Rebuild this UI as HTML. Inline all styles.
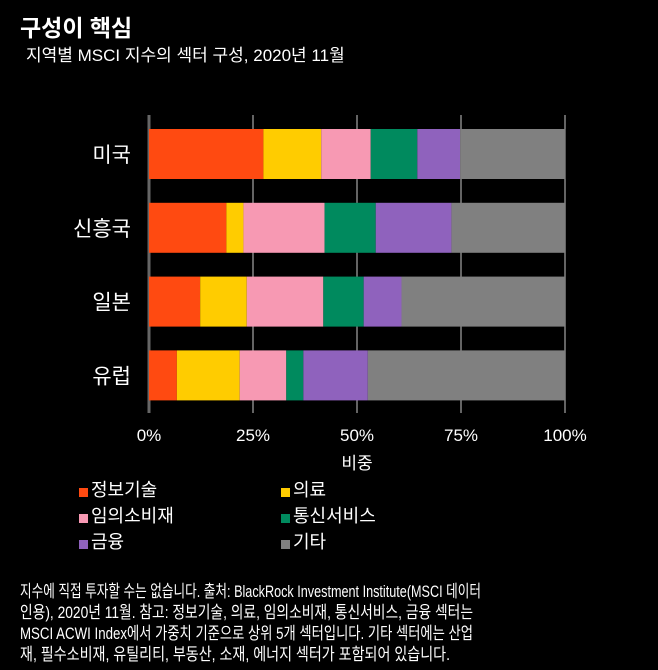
<!DOCTYPE html>
<html><head><meta charset="utf-8"><style>
body{margin:0;background:#000;width:658px;height:666px;overflow:hidden;font-family:"Liberation Sans","Noto Sans CJK KR",sans-serif;color:#fff;position:relative}
.t{position:absolute;white-space:nowrap}
.sq{display:inline-block;width:9px;height:9px;margin-right:3px;vertical-align:-1px}
</style></head><body>
<div class="t" style="left:20px;top:9px;font-size:23px;font-weight:bold">구성이 핵심</div>
<div class="t" style="left:26px;top:41px;font-size:17px">지역별 MSCI 지수의 섹터 구성, 2020년 11월</div>
<svg id="chart" width="658" height="480" style="position:absolute;left:0;top:0"></svg>
<div>
<div class="t" style="left:79px;top:476px;font-size:18px"><span class="sq" style="background:#ff4a11"></span>정보기술</div>
<div class="t" style="left:281px;top:476px;font-size:18px"><span class="sq" style="background:#ffcc00"></span>의료</div>
<div class="t" style="left:79px;top:502px;font-size:18px"><span class="sq" style="background:#f799b3"></span>임의소비재</div>
<div class="t" style="left:281px;top:502px;font-size:18px"><span class="sq" style="background:#008a5e"></span>통신서비스</div>
<div class="t" style="left:79px;top:528px;font-size:18px"><span class="sq" style="background:#8f62bd"></span>금융</div>
<div class="t" style="left:281px;top:528px;font-size:18px"><span class="sq" style="background:#808080"></span>기타</div>
</div>
<svg width="658" height="100" style="position:absolute;left:0;top:570px" font-family="Liberation Sans, Noto Sans CJK KR, sans-serif" font-size="17" fill="#fff">
<text x="20" y="27" textLength="461" lengthAdjust="spacingAndGlyphs">지수에 직접 투자할 수는 없습니다. 출처: BlackRock Investment Institute(MSCI 데이터</text>
<text x="20" y="48" textLength="453" lengthAdjust="spacingAndGlyphs">인용), 2020년 11월. 참고: 정보기술, 의료, 임의소비재, 통신서비스, 금융 섹터는</text>
<text x="20" y="69" textLength="453" lengthAdjust="spacingAndGlyphs">MSCI ACWI Index에서 가중치 기준으로 상위 5개 섹터입니다. 기타 섹터에는 산업</text>
<text x="20" y="90" textLength="430" lengthAdjust="spacingAndGlyphs">재, 필수소비재, 유틸리티, 부동산, 소재, 에너지 섹터가 포함되어 있습니다.</text>
</svg>
<script>
const categories=["미국","신흥국","일본","유럽"];
const seriesNames=["정보기술","의료","임의소비재","통신서비스","금융","기타"];
const it=[27.5,18.6,12.3,6.7];
const health=[13.9,4.1,11.2,15.1];
const consumer=[11.9,19.5,18.4,11.2];
const telecom=[11.2,12.3,9.7,4.1];
const finance=[10.3,18.2,9.1,15.5];
const other=[25.3,27.3,39.3,47.4];
const tickValues=[0,25,50,75,100];
const tickLabels=["0%","25%","50%","75%","100%"];
const series=[it,health,consumer,telecom,finance,other];
const colors=["#ff4a11","#ffcc00","#f799b3","#008a5e","#8f62bd","#808080"];
const keys=["it","health","consumer","telecom","finance","other"];
const svg=document.getElementById('chart');const NS="http://www.w3.org/2000/svg";
const X0=149,X1=565;const x=v=>X0+(X1-X0)*v/100;
const y=i=>129+i*73.8;const BH=50;
function mk(t,a){const e=document.createElementNS(NS,t);for(const k in a)e.setAttribute(k,a[k]);svg.appendChild(e);return e;}
tickValues.forEach((v,i)=>{
 const l=mk('line',{x1:x(v),x2:x(v),y1:115,y2:413,stroke:i==0?'#666':'#999','stroke-width':i==0?3:1.3});
 
 
 const t=mk('text',{x:x(v),y:441,'text-anchor':'middle',fill:'#fff','font-size':17});
 t.textContent=tickLabels[i];
 
 
});
categories.forEach((c,i)=>{
 let acc=0;
 series.forEach((s,j)=>{
  const r=mk('rect',{x:x(acc),y:y(i),width:x(acc+s[i])-x(acc),height:BH,fill:colors[j]});
  
  
  acc+=s[i];
 });
 const t=mk('text',{x:131,y:y(i)+BH/2+8,'text-anchor':'end',fill:'#fff','font-size':21});
 t.textContent=c;
 
 
});
const at=mk('text',{x:(X0+X1)/2,y:469,'text-anchor':'middle',fill:'#fff','font-size':17});
at.textContent="비중";


</script>
</body></html>
